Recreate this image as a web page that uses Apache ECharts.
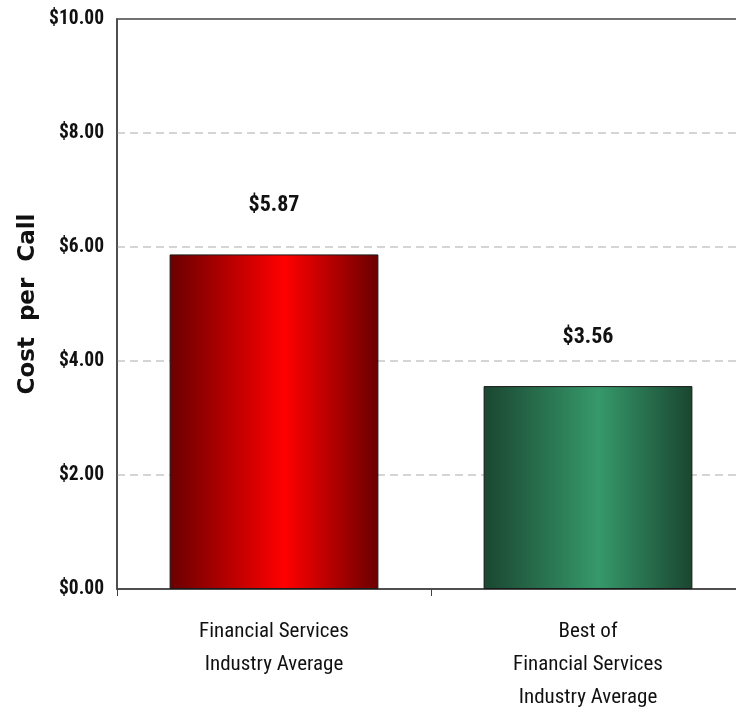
<!DOCTYPE html>
<html>
<head>
<meta charset="utf-8">
<script src="https://cdn.jsdelivr.net/npm/echarts@6/dist/echarts.min.js"></script>
<style>
  html, body { margin: 0; padding: 0; background: #fff; }
  #chart { width: 736px; height: 715px; }
</style>
</head>
<body>
<div id="chart"></div>
<script>
// Cost per call: industry average vs. best of industry
const categories = ['Financial Services\nIndustry Average', 'Best of\nFinancial Services\nIndustry Average'];
const costValues = [5.87, 3.56];
const yTicks = { min: 0, max: 10, interval: 2 };

const narrow = '"Roboto Condensed", "Liberation Sans Narrow", "Arial Narrow", sans-serif';

function barGradient(edge, mid) {
  return new echarts.graphic.LinearGradient(0, 0, 1, 0, [
    { offset: 0, color: edge },
    { offset: 0.55, color: mid },
    { offset: 1, color: edge }
  ]);
}
const fills = [
  barGradient('#6a0000', '#ff0000'),
  barGradient('#1a4630', '#36996b')
];

const chart = echarts.init(document.getElementById('chart'));
chart.setOption({
  backgroundColor: '#ffffff',
  animation: false,
  grid: {
    left: 117, top: 19, width: 628, height: 570,
    containLabel: false,
    outerBoundsMode: 'none',
    show: true, borderColor: '#444444', borderWidth: 1.5,
    backgroundColor: 'transparent'
  },
  xAxis: {
    type: 'category',
    data: categories,
    axisLine: { lineStyle: { color: '#444444', width: 1.5 } },
    axisTick: { show: true, length: 7, lineStyle: { color: '#444444' } },
    axisLabel: {
      margin: 26, color: '#111', fontFamily: narrow, fontSize: 21,
      lineHeight: 33, fontWeight: 'normal'
    }
  },
  yAxis: {
    type: 'value',
    min: yTicks.min, max: yTicks.max, interval: yTicks.interval,
    name: 'Cost  per  Call',
    nameLocation: 'middle',
    nameMoveOverlap: false,
    nameGap: 77,
    nameRotate: 90,
    nameTextStyle: { fontFamily: '"DejaVu Sans", Verdana, sans-serif', fontWeight: 'bold', fontSize: 23, color: '#111' },
    axisLine: { show: true, lineStyle: { color: '#444444', width: 1.5 } },
    axisTick: { show: false },
    axisLabel: {
      margin: 13, color: '#111', fontFamily: narrow, fontSize: 19.5, fontWeight: 'bold',
      formatter: v => '$' + v.toFixed(2)
    },
    splitLine: {
      show: true, showMinLine: false, showMaxLine: false,
      lineStyle: { color: '#c8c8c8', type: [8, 5], width: 1.5 }
    }
  },
  series: [{
    type: 'bar',
    barCategoryGap: '33.5%',
    data: costValues.map((v, i) => ({
      value: v,
      itemStyle: { color: fills[i], borderColor: '#1a1a1a', borderWidth: 1 }
    })),
    label: {
      show: true, position: 'top', distance: 38,
      fontFamily: narrow, fontSize: 22, fontWeight: 'bold', color: '#111',
      formatter: p => '$' + p.value.toFixed(2)
    }
  }]
});
</script>
</body>
</html>
